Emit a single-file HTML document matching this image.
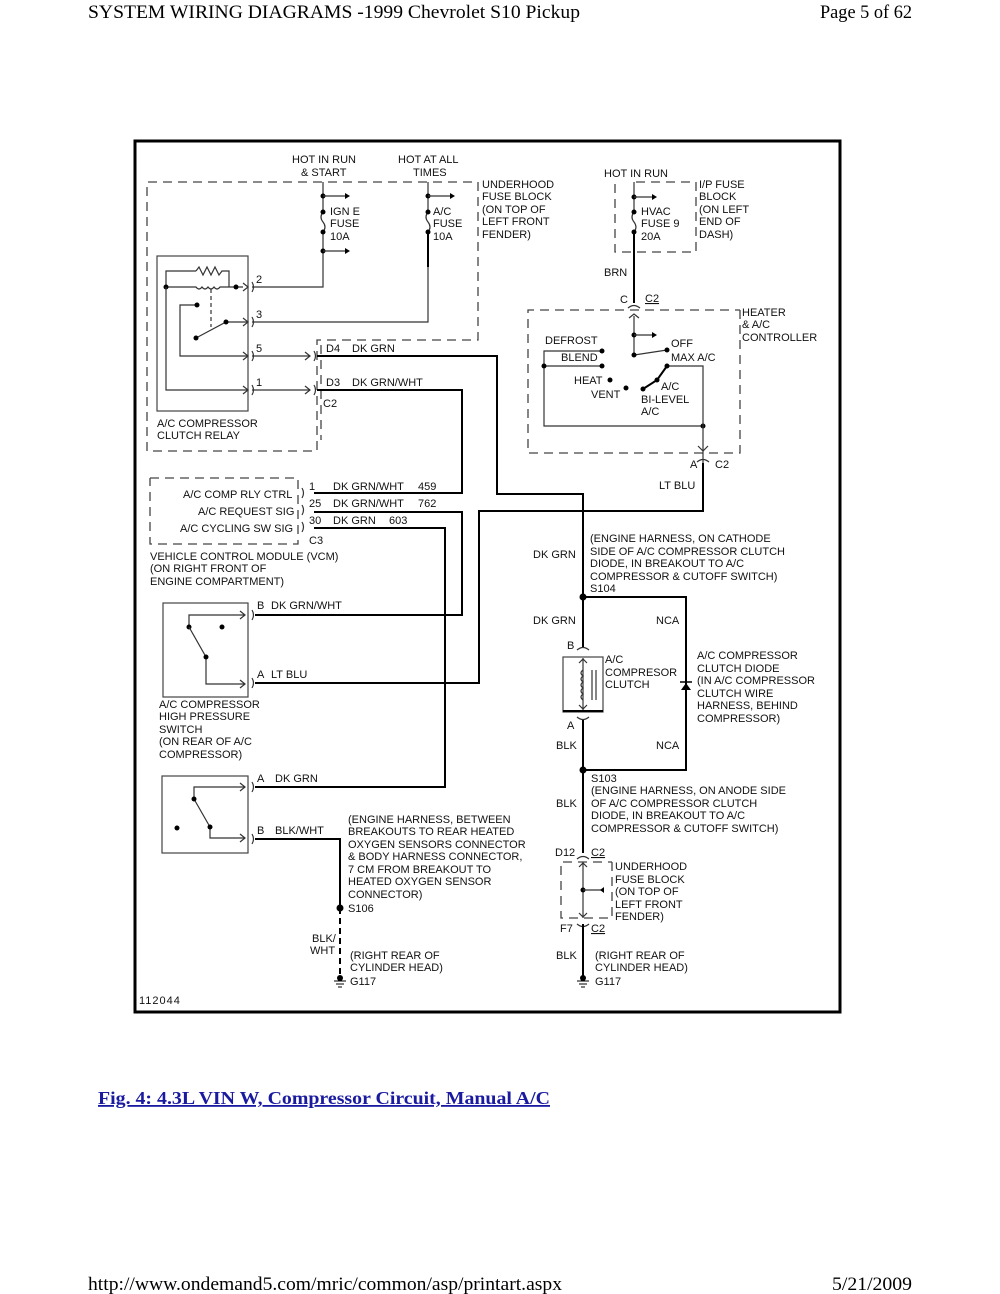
<!DOCTYPE html>
<html><head><meta charset="utf-8"><style>
html,body{margin:0;padding:0;background:#fff;}
svg{display:block;}
.t{font-family:"Liberation Sans",sans-serif;font-size:11px;fill:#111;}
.w{stroke:#000;stroke-width:2;fill:none;}
.n{stroke:#333;stroke-width:1.2;fill:none;}
.d{stroke:#444;stroke-width:1.3;fill:none;stroke-dasharray:9,6;}
</style></head><body>
<svg width="1000" height="1294" viewBox="0 0 1000 1294" xmlns="http://www.w3.org/2000/svg">
<text x="88" y="18" font-family="Liberation Serif,serif" font-size="19" textLength="492" lengthAdjust="spacingAndGlyphs">SYSTEM WIRING DIAGRAMS -1999 Chevrolet S10 Pickup</text>
<text x="820" y="18" font-family="Liberation Serif,serif" font-size="19" textLength="92" lengthAdjust="spacingAndGlyphs">Page 5 of 62</text>
<rect x="135" y="141" width="705" height="871" fill="none" stroke="#000" stroke-width="3"/>

<polyline class="d" points="478,182 478,340 317,340 317,451 147,451 147,182 478,182"/>
<line class="d" x1="321" y1="345" x2="321" y2="440"/>
<text class="t" x="292" y="163">HOT IN RUN</text><text class="t" x="301" y="176">&amp; START</text>
<text class="t" x="398" y="163">HOT AT ALL</text><text class="t" x="413" y="176">TIMES</text>
<text class="t" x="482" y="188">UNDERHOOD</text><text class="t" x="482" y="200">FUSE BLOCK</text><text class="t" x="482" y="213">(ON TOP OF</text><text class="t" x="482" y="225">LEFT FRONT</text><text class="t" x="482" y="238">FENDER)</text>
<polyline class="n" points="323,182 323,212"/><path class="n" d="M323,212 q-4,5 0,10 q4,5 0,10"/><polyline class="n" points="323,232 323,287 252,287"/>
<circle cx="323" cy="196" r="2.5"/><circle cx="323" cy="212" r="2.5"/><circle cx="323" cy="232" r="2.5"/><circle cx="323" cy="251" r="2.5"/>
<line class="n" x1="323" y1="196" x2="345" y2="196"/><path d="M345,193 l5,3 -5,3z"/>
<line class="n" x1="323" y1="251" x2="345" y2="251"/><path d="M345,248 l5,3 -5,3z"/>
<text class="t" x="330" y="215">IGN E</text><text class="t" x="330" y="227">FUSE</text><text class="t" x="330" y="240">10A</text>
<polyline class="n" points="428,182 428,212"/><path class="n" d="M428,212 q-4,5 0,10 q4,5 0,10"/><polyline class="w" points="428,232 428,267"/><polyline class="n" points="428,267 428,322 252,322"/>
<circle cx="428" cy="196" r="2.5"/><circle cx="428" cy="212" r="2.5"/><circle cx="428" cy="232" r="2.5"/>
<line class="n" x1="428" y1="196" x2="450" y2="196"/><path d="M450,193 l5,3 -5,3z"/>
<text class="t" x="433" y="215">A/C</text><text class="t" x="433" y="227">FUSE</text><text class="t" x="433" y="240">10A</text>
<rect x="157" y="256" width="91" height="155" fill="none" stroke="#444" stroke-width="1.2"/>
<polyline class="n" points="166,287 166,271 196,271"/><path class="n" d="M196,271 l3,-4 4,8 4,-8 4,8 4,-8 4,8 3,-4 h7 v16"/>
<path class="n" d="M166,287 h30 q3,4 6,0 q3,4 6,0 q3,4 6,0 q3,4 6,0 h14 l9,0"/>
<circle cx="166" cy="287" r="2.5"/><circle cx="236" cy="287" r="2.5"/>
<line class="n" x1="211" y1="289" x2="211" y2="327" stroke-dasharray="4,3"/>
<polyline class="n" points="197,305 180,305 180,356 248,356"/><circle cx="197" cy="305" r="2.5"/>
<polyline class="n" points="196,338 226,322 248,322"/><circle cx="196" cy="338" r="2.5"/><circle cx="226" cy="322" r="2.5"/>
<polyline class="n" points="166,287 166,390 248,390"/>
<g class="n"><path d="M243,283 l5,4 -5,4"/><path d="M243,318 l5,4 -5,4"/><path d="M243,352 l5,4 -5,4"/><path d="M243,386 l5,4 -5,4"/>
<path d="M252,282 q3,5 0,10"/><path d="M252,317 q3,5 0,10"/><path d="M252,351 q3,5 0,10"/><path d="M252,385 q3,5 0,10"/>
<path d="M305,352 l5,4 -5,4"/><path d="M305,386 l5,4 -5,4"/><path d="M314,351 q3,5 0,10"/><path d="M314,385 q3,5 0,10"/></g>
<line class="n" x1="252" y1="356" x2="310" y2="356"/><line class="n" x1="252" y1="390" x2="310" y2="390"/>
<text class="t" x="256" y="283">2</text><text class="t" x="256" y="318">3</text><text class="t" x="256" y="352">5</text><text class="t" x="256" y="386">1</text>
<text class="t" x="157" y="427">A/C COMPRESSOR</text><text class="t" x="157" y="439">CLUTCH RELAY</text>
<text class="t" x="326" y="352">D4</text><text class="t" x="352" y="352">DK GRN</text>
<text class="t" x="326" y="386">D3</text><text class="t" x="352" y="386">DK GRN/WHT</text><text class="t" x="323" y="407">C2</text>

<polyline class="w" points="317,356 497,356 497,494 583,494 583,648"/>
<polyline class="w" points="317,390 462,390 462,493 314,493"/>
<polyline class="w" points="314,512 462,512 462,615 255,615"/>
<polyline class="w" points="314,528 445,528 445,787 255,787"/>
<polyline class="w" points="703,463 703,511 479,511 479,683 255,683"/>

<text class="t" x="604" y="177">HOT IN RUN</text>
<polyline class="d" points="636,182 696,182 696,252 615,252 615,182"/>
<text class="t" x="699" y="188">I/P FUSE</text><text class="t" x="699" y="200">BLOCK</text><text class="t" x="699" y="213">(ON LEFT</text><text class="t" x="699" y="225">END OF</text><text class="t" x="699" y="238">DASH)</text>
<polyline class="n" points="634,182 634,212"/><path class="n" d="M634,212 q-4,5 0,10 q4,5 0,10"/><polyline class="w" points="634,232 634,303"/>
<circle cx="634" cy="197" r="2.5"/><circle cx="634" cy="212" r="2.5"/><circle cx="634" cy="232" r="2.5"/>
<line class="n" x1="634" y1="197" x2="652" y2="197"/><path d="M652,194 l5,3 -5,3z"/>
<text class="t" x="641" y="215">HVAC</text><text class="t" x="641" y="227">FUSE 9</text><text class="t" x="641" y="240">20A</text>
<text class="t" x="604" y="276">BRN</text><text class="t" x="620" y="303">C</text><text class="t" x="645" y="302" text-decoration="underline">C2</text>
<path class="n" d="M628,308 q6,-5 12,0"/><path class="n" d="M629,318 l5,-4 5,4"/>
<polyline class="d" points="740,310 740,453 528,453 528,310 740,310"/>
<text class="t" x="742" y="316">HEATER</text><text class="t" x="742" y="328">&amp; A/C</text><text class="t" x="742" y="341">CONTROLLER</text>
<polyline class="n" points="634,316 634,355 667,350"/><circle cx="634" cy="335" r="2.5"/><circle cx="634" cy="355" r="2.5"/><circle cx="667" cy="350" r="2.5"/>
<line class="n" x1="634" y1="335" x2="652" y2="335"/><path d="M652,332 l5,3 -5,3z"/>
<text class="t" x="671" y="347">OFF</text><text class="t" x="671" y="361">MAX A/C</text>
<text class="t" x="545" y="344">DEFROST</text><text class="t" x="561" y="361">BLEND</text>
<polyline class="n" points="602,351 544,351 544,426 703,426"/><line class="n" x1="544" y1="366" x2="602" y2="366"/>
<circle cx="602" cy="351" r="2.5"/><circle cx="602" cy="366" r="2.5"/><circle cx="544" cy="366" r="2.5"/><circle cx="703" cy="426" r="2.5"/>
<polyline class="n" points="667,366 703,366 703,463"/><polyline class="w" points="667,366 657,380 643,389"/>
<circle cx="667" cy="366" r="2.5"/><circle cx="657" cy="380" r="2.5"/><circle cx="643" cy="389" r="2.5"/>
<text class="t" x="574" y="384">HEAT</text><circle cx="610" cy="380" r="2.5"/><text class="t" x="591" y="398">VENT</text><circle cx="626" cy="388" r="2.5"/>
<text class="t" x="661" y="390">A/C</text><text class="t" x="641" y="403">BI-LEVEL</text><text class="t" x="641" y="415">A/C</text>
<path class="n" d="M698,446 l5,5 5,-5"/><path class="n" d="M697,462 q6,-5 12,0"/>
<text class="t" x="690" y="468">A</text><text class="t" x="715" y="468">C2</text>
<text class="t" x="659" y="489">LT BLU</text>

<polyline class="d" points="150,478 298,478 298,544 150,544 150,478"/>
<text class="t" x="183" y="498">A/C COMP RLY CTRL</text><text class="t" x="198" y="515">A/C REQUEST SIG</text><text class="t" x="180" y="532">A/C CYCLING SW SIG</text>
<g class="n"><path d="M302,488 q3,5 0,10"/><path d="M302,505 q3,5 0,10"/><path d="M302,522 q3,5 0,10"/></g>
<text class="t" x="309" y="490">1</text><text class="t" x="333" y="490">DK GRN/WHT</text><text class="t" x="418" y="490">459</text>
<text class="t" x="309" y="507">25</text><text class="t" x="333" y="507">DK GRN/WHT</text><text class="t" x="418" y="507">762</text>
<text class="t" x="309" y="524">30</text><text class="t" x="333" y="524">DK GRN</text><text class="t" x="389" y="524">603</text>
<text class="t" x="309" y="544">C3</text>
<text class="t" x="150" y="560">VEHICLE CONTROL MODULE (VCM)</text><text class="t" x="150" y="572">(ON RIGHT FRONT OF</text><text class="t" x="150" y="585">ENGINE COMPARTMENT)</text>

<rect x="163" y="603" width="85" height="94" fill="none" stroke="#444" stroke-width="1.2"/>
<polyline class="n" points="189,627 189,615 245,615"/><path class="n" d="M240,611 l5,4 -5,4"/>
<circle cx="189" cy="627" r="2.5"/><circle cx="222" cy="627" r="2.5"/>
<polyline class="n" points="189,627 206,657 206,684 245,684"/><circle cx="206" cy="657" r="2.5"/><path class="n" d="M240,680 l5,4 -5,4"/>
<path class="n" d="M252,610 q3,5 0,10"/><path class="n" d="M252,678 q3,5 0,10"/>
<text class="t" x="257" y="609">B</text><text class="t" x="271" y="609">DK GRN/WHT</text>
<text class="t" x="257" y="678">A</text><text class="t" x="271" y="678">LT BLU</text>
<text class="t" x="159" y="708">A/C COMPRESSOR</text><text class="t" x="159" y="720">HIGH PRESSURE</text><text class="t" x="159" y="733">SWITCH</text><text class="t" x="159" y="745">(ON REAR OF A/C</text><text class="t" x="159" y="758">COMPRESSOR)</text>

<rect x="162" y="776" width="86" height="77" fill="none" stroke="#444" stroke-width="1.2"/>
<polyline class="n" points="194,799 194,787 245,787"/><path class="n" d="M240,783 l5,4 -5,4"/>
<polyline class="n" points="194,799 210,827 210,838 245,838"/><path class="n" d="M240,834 l5,4 -5,4"/>
<circle cx="194" cy="799" r="2.5"/><circle cx="210" cy="827" r="2.5"/><circle cx="177" cy="828" r="2.5"/>
<path class="n" d="M252,782 q3,5 0,10"/><path class="n" d="M252,834 q3,5 0,10"/>
<text class="t" x="257" y="782">A</text><text class="t" x="275" y="782">DK GRN</text>
<text class="t" x="257" y="834">B</text><text class="t" x="275" y="834">BLK/WHT</text>
<polyline class="w" points="255,839 340,839 340,908"/>
<line x1="340" y1="908" x2="340" y2="977" stroke="#000" stroke-width="2" stroke-dasharray="6,4"/>
<circle cx="340" cy="908" r="3.5"/>
<text class="t" x="348" y="823">(ENGINE HARNESS, BETWEEN</text><text class="t" x="348" y="835">BREAKOUTS TO REAR HEATED</text><text class="t" x="348" y="848">OXYGEN SENSORS CONNECTOR</text><text class="t" x="348" y="860">&amp; BODY HARNESS CONNECTOR,</text><text class="t" x="348" y="873">7 CM FROM BREAKOUT TO</text><text class="t" x="348" y="885">HEATED OXYGEN SENSOR</text><text class="t" x="348" y="898">CONNECTOR)</text>
<text class="t" x="348" y="912">S106</text>
<text class="t" x="312" y="942">BLK/</text><text class="t" x="310" y="954">WHT</text>
<text class="t" x="350" y="959">(RIGHT REAR OF</text><text class="t" x="350" y="971">CYLINDER HEAD)</text>
<circle cx="340" cy="978" r="3"/><line x1="334" y1="981" x2="346" y2="981" stroke="#000"/><line x1="336" y1="984" x2="344" y2="984" stroke="#000"/><line x1="338" y1="987" x2="342" y2="987" stroke="#000"/>
<text class="t" x="350" y="985">G117</text>
<text class="t" x="139" y="1004" letter-spacing="1">112044</text>

<text class="t" x="533" y="558">DK GRN</text>
<text class="t" x="590" y="542">(ENGINE HARNESS, ON CATHODE</text><text class="t" x="590" y="555">SIDE OF A/C COMPRESSOR CLUTCH</text><text class="t" x="590" y="567">DIODE, IN BREAKOUT TO A/C</text><text class="t" x="590" y="580">COMPRESSOR &amp; CUTOFF SWITCH)</text><text class="t" x="590" y="592">S104</text>
<circle cx="583" cy="597" r="3.5"/>
<polyline class="w" points="583,597 686,597 686,770 583,770"/>
<text class="t" x="533" y="624">DK GRN</text><text class="t" x="656" y="624">NCA</text>
<path d="M681,690 h10 l-5,-7z"/><line x1="680" y1="682" x2="692" y2="682" stroke="#000" stroke-width="1.5"/>
<text class="t" x="697" y="659">A/C COMPRESSOR</text><text class="t" x="697" y="672">CLUTCH DIODE</text><text class="t" x="697" y="684">(IN A/C COMPRESSOR</text><text class="t" x="697" y="697">CLUTCH WIRE</text><text class="t" x="697" y="709">HARNESS, BEHIND</text><text class="t" x="697" y="722">COMPRESSOR)</text>
<text class="t" x="567" y="649">B</text><path class="n" d="M577,650 q6,-5 12,0"/>
<rect x="563" y="657" width="40" height="55" fill="none" stroke="#444" stroke-width="1.2"/>
<line x1="563" y1="711" x2="603" y2="711" stroke="#000" stroke-width="2"/>
<line class="n" x1="583" y1="658" x2="583" y2="710"/><path class="n" d="M579,663 l4,-4 4,4"/><path class="n" d="M579,705 l4,4 4,-4"/>
<path class="n" d="M583,670 q-4,3 0,6 q-4,3 0,6 q-4,3 0,6 q-4,3 0,6 q-4,3 0,6"/>
<line class="n" x1="592" y1="670" x2="592" y2="700"/><line class="n" x1="596" y1="670" x2="596" y2="700"/>
<text class="t" x="605" y="663">A/C</text><text class="t" x="605" y="676">COMPRESOR</text><text class="t" x="605" y="688">CLUTCH</text>
<path class="n" d="M577,717 q6,5 12,0"/><text class="t" x="567" y="729">A</text>
<polyline class="w" points="583,720 583,853"/>
<text class="t" x="556" y="749">BLK</text><text class="t" x="656" y="749">NCA</text>
<circle cx="583" cy="770" r="3.5"/>
<text class="t" x="591" y="782">S103</text>
<text class="t" x="591" y="794">(ENGINE HARNESS, ON ANODE SIDE</text><text class="t" x="591" y="807">OF A/C COMPRESSOR CLUTCH</text><text class="t" x="591" y="819">DIODE, IN BREAKOUT TO A/C</text><text class="t" x="591" y="832">COMPRESSOR &amp; CUTOFF SWITCH)</text>
<text class="t" x="556" y="807">BLK</text>
<text class="t" x="555" y="856">D12</text><text class="t" x="591" y="856" text-decoration="underline">C2</text>
<path class="n" d="M577,859 q6,-5 12,0"/>
<polyline class="d" points="612,862 612,918 561,918 561,862 612,862"/>
<line class="n" x1="583" y1="862" x2="583" y2="918"/><path class="n" d="M579,867 l4,-4 4,4"/><path class="n" d="M579,913 l4,4 4,-4"/>
<circle cx="583" cy="890" r="2.5"/><line class="n" x1="583" y1="890" x2="604" y2="890"/><path d="M604,887 l-4,3 4,3z"/>
<text class="t" x="615" y="870">UNDERHOOD</text><text class="t" x="615" y="883">FUSE BLOCK</text><text class="t" x="615" y="895">(ON TOP OF</text><text class="t" x="615" y="908">LEFT FRONT</text><text class="t" x="615" y="920">FENDER)</text>
<path class="n" d="M577,924 q6,5 12,0"/>
<text class="t" x="560" y="932">F7</text><text class="t" x="591" y="932" text-decoration="underline">C2</text>
<polyline class="w" points="583,924 583,978"/>
<text class="t" x="556" y="959">BLK</text>
<text class="t" x="595" y="959">(RIGHT REAR OF</text><text class="t" x="595" y="971">CYLINDER HEAD)</text>
<circle cx="583" cy="978" r="3"/><line x1="577" y1="981" x2="589" y2="981" stroke="#000"/><line x1="579" y1="984" x2="587" y2="984" stroke="#000"/><line x1="581" y1="987" x2="585" y2="987" stroke="#000"/>
<text class="t" x="595" y="985">G117</text>

<text x="98" y="1104" font-family="Liberation Serif,serif" font-size="18" font-weight="bold" fill="#1a1aa0" text-decoration="underline" textLength="452" lengthAdjust="spacingAndGlyphs">Fig. 4: 4.3L VIN W, Compressor Circuit, Manual A/C</text>
<text x="88" y="1290" font-family="Liberation Serif,serif" font-size="19" textLength="474" lengthAdjust="spacingAndGlyphs">http://www.ondemand5.com/mric/common/asp/printart.aspx</text>
<text x="832" y="1290" font-family="Liberation Serif,serif" font-size="19" textLength="80" lengthAdjust="spacingAndGlyphs">5/21/2009</text>
</svg>
</body></html>
